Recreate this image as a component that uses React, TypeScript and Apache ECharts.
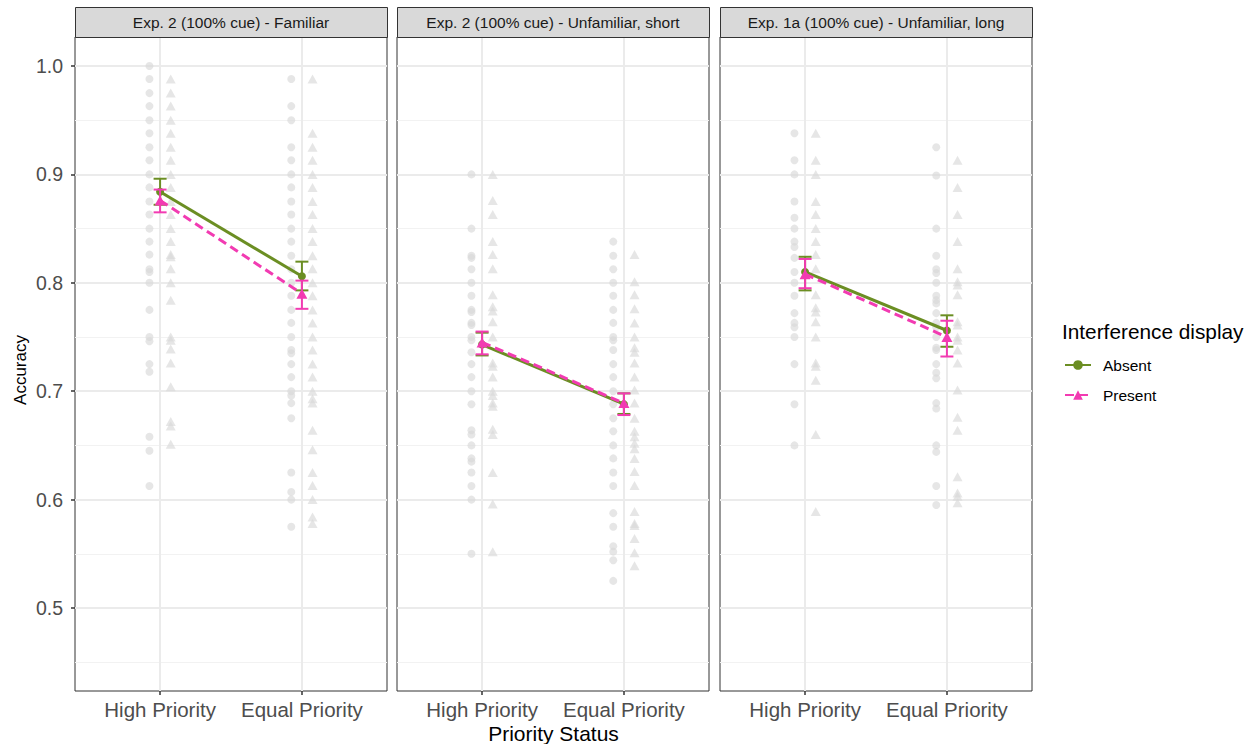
import React, { useEffect, useRef } from 'react';
import * as echarts from 'echarts';

const panelTitles = [
  'Exp. 2 (100% cue) - Familiar',
  'Exp. 2 (100% cue) - Unfamiliar, short',
  'Exp. 1a (100% cue) - Unfamiliar, long',
];
const categories = ['High Priority', 'Equal Priority'];
const yTicks = [0.5, 0.6, 0.7, 0.8, 0.9, 1.0];
const conditions = ['Absent', 'Present'];

// condition means and error-bar limits: [panel][category]
const absentMean = [[0.884, 0.806], [0.743, 0.688], [0.810, 0.756]];
const absentLow = [[0.872, 0.793], [0.733, 0.679], [0.793, 0.741]];
const absentHigh = [[0.896, 0.8195], [0.754, 0.698], [0.824, 0.770]];
const presentMean = [[0.876, 0.790], [0.745, 0.689], [0.808, 0.750]];
const presentLow = [[0.865, 0.776], [0.734, 0.678], [0.795, 0.732]];
const presentHigh = [[0.886, 0.802], [0.755, 0.698], [0.822, 0.765]];

// individual participant accuracies
const famAbsentHigh = [1.0, 0.988, 0.975, 0.963, 0.95, 0.938, 0.925, 0.913, 0.9, 0.888, 0.875, 0.863, 0.85, 0.838, 0.826, 0.8125, 0.81, 0.8, 0.775, 0.75, 0.746, 0.725, 0.718, 0.658, 0.645, 0.6125];
const famPresentHigh = [0.988, 0.975, 0.963, 0.95, 0.938, 0.925, 0.913, 0.9, 0.888, 0.875, 0.863, 0.85, 0.838, 0.826, 0.824, 0.813, 0.8, 0.784, 0.75, 0.747, 0.739, 0.726, 0.704, 0.672, 0.668, 0.651];
const famAbsentEqual = [0.988, 0.963, 0.95, 0.925, 0.913, 0.9, 0.888, 0.875, 0.863, 0.85, 0.838, 0.825, 0.8125, 0.8, 0.788, 0.775, 0.763, 0.75, 0.738, 0.735, 0.725, 0.713, 0.7, 0.696, 0.689, 0.675, 0.625, 0.607, 0.6, 0.575];
const famPresentEqual = [0.988, 0.938, 0.925, 0.913, 0.9, 0.888, 0.875, 0.863, 0.85, 0.838, 0.825, 0.813, 0.8, 0.788, 0.775, 0.763, 0.75, 0.738, 0.725, 0.713, 0.7, 0.693, 0.689, 0.664, 0.646, 0.625, 0.613, 0.6, 0.584, 0.578];

const shortAbsentHigh = [0.9, 0.85, 0.825, 0.823, 0.8125, 0.8, 0.788, 0.775, 0.773, 0.763, 0.761, 0.75, 0.747, 0.736, 0.725, 0.713, 0.7, 0.688, 0.664, 0.66, 0.65, 0.638, 0.635, 0.625, 0.6125, 0.6, 0.55];
const shortPresentHigh = [0.9, 0.876, 0.863, 0.838, 0.826, 0.813, 0.789, 0.778, 0.774, 0.764, 0.75, 0.726, 0.723, 0.713, 0.7, 0.696, 0.689, 0.686, 0.665, 0.66, 0.625, 0.596, 0.552];
const shortAbsentEqual = [0.838, 0.825, 0.8125, 0.8, 0.788, 0.775, 0.763, 0.75, 0.747, 0.738, 0.725, 0.713, 0.7, 0.688, 0.675, 0.663, 0.65, 0.638, 0.625, 0.6125, 0.5875, 0.575, 0.557, 0.552, 0.544, 0.525];
const shortPresentEqual = [0.826, 0.801, 0.789, 0.776, 0.763, 0.75, 0.74, 0.736, 0.726, 0.713, 0.701, 0.689, 0.675, 0.663, 0.658, 0.652, 0.647, 0.638, 0.626, 0.613, 0.589, 0.578, 0.576, 0.564, 0.551, 0.539];

const longAbsentHigh = [0.938, 0.913, 0.9, 0.875, 0.86, 0.85, 0.838, 0.833, 0.823, 0.81, 0.8, 0.788, 0.772, 0.763, 0.759, 0.75, 0.725, 0.688, 0.65];
const longPresentHigh = [0.938, 0.913, 0.9, 0.875, 0.863, 0.85, 0.838, 0.826, 0.813, 0.789, 0.777, 0.773, 0.764, 0.75, 0.726, 0.723, 0.71, 0.66, 0.589];
const longAbsentEqual = [0.925, 0.899, 0.85, 0.825, 0.8125, 0.809, 0.8, 0.788, 0.784, 0.781, 0.772, 0.763, 0.759, 0.75, 0.74, 0.738, 0.725, 0.717, 0.712, 0.689, 0.684, 0.65, 0.644, 0.6125, 0.595];
const longPresentEqual = [0.913, 0.888, 0.863, 0.838, 0.813, 0.801, 0.798, 0.789, 0.764, 0.761, 0.75, 0.747, 0.738, 0.726, 0.701, 0.676, 0.664, 0.621, 0.606, 0.603, 0.597];

const absentPoints = [
  [famAbsentHigh, famAbsentEqual],
  [shortAbsentHigh, shortAbsentEqual],
  [longAbsentHigh, longAbsentEqual],
];
const presentPoints = [
  [famPresentHigh, famPresentEqual],
  [shortPresentHigh, shortPresentEqual],
  [longPresentHigh, longPresentEqual],
];

const FONT = 'Liberation Sans, Arial, Helvetica, sans-serif';
const GREEN = '#6b8e23';
const PINK = '#f23bb2';
const GRID_LEFTS = [75, 397, 720];
const GRID_W = 312;
const GRID_TOP = 37;
const GRID_H = 654;
const DODGE = 0.075;

export default function App() {
  const ref = useRef<HTMLDivElement>(null);
  useEffect(() => {
    if (!ref.current) return;
    const chart = echarts.init(ref.current, null, { renderer: 'svg' });

    const grids: any[] = [];
    const xAxes: any[] = [];
    const yAxes: any[] = [];
    const series: any[] = [];
    const graphics: any[] = [];
    const catPos = categories.map((_, i) => i + 1);

    const errRender = (color: string) => (params: any, api: any) => {
      const x = api.value(0);
      const lo = api.coord([x, api.value(1)]);
      const hi = api.coord([x, api.value(2)]);
      const w = 6.5;
      const st = { stroke: color, lineWidth: 2 };
      return {
        type: 'group',
        children: [
          { type: 'line', shape: { x1: lo[0], y1: lo[1], x2: hi[0], y2: hi[1] }, style: st },
          { type: 'line', shape: { x1: lo[0] - w, y1: lo[1], x2: lo[0] + w, y2: lo[1] }, style: st },
          { type: 'line', shape: { x1: hi[0] - w, y1: hi[1], x2: hi[0] + w, y2: hi[1] }, style: st },
        ],
      };
    };

    panelTitles.forEach((title, p) => {
      grids.push({
        left: GRID_LEFTS[p], top: GRID_TOP, width: GRID_W, height: GRID_H,
        show: true, borderColor: '#333333', borderWidth: 1, backgroundColor: '#ffffff',
      });
      xAxes.push({
        type: 'value', gridIndex: p, min: 0.4, max: 2.6,
        axisLine: { show: false },
        axisTick: { show: true, length: 4, customValues: catPos, lineStyle: { color: '#333333', width: 1.5 } },
        axisLabel: {
          show: true, customValues: catPos, margin: 8,
          formatter: (v: number) => categories[Math.round(v) - 1] ?? '',
          color: '#4d4d4d', fontSize: 20.5, fontFamily: FONT,
        },
        splitLine: { show: true, lineStyle: { color: '#ebebeb', width: 2 } },
        minorSplitLine: { show: false },
      });
      yAxes.push({
        type: 'value', gridIndex: p, min: 0.42343, max: 1.02675,
        axisLine: { show: false },
        axisTick: { show: p === 0, length: 4, customValues: yTicks, lineStyle: { color: '#333333', width: 1.5 } },
        axisLabel: {
          show: p === 0, customValues: yTicks, margin: 12,
          formatter: (v: number) => v.toFixed(1),
          color: '#4d4d4d', fontSize: 19.5, fontFamily: FONT,
        },
        splitLine: { show: true, lineStyle: { color: '#ebebeb', width: 2 } },
        minorTick: { show: false, splitNumber: 2 },
        minorSplitLine: { show: true, lineStyle: { color: '#f2f2f2', width: 1 } },
      });

      // individual points
      series.push({
        type: 'scatter', name: 'absent-ind-' + p, xAxisIndex: p, yAxisIndex: p,
        symbol: 'circle', symbolSize: 8, silent: true, z: 1,
        itemStyle: { color: '#d9d9d9', opacity: 0.65 },
        data: absentPoints[p].flatMap((vals, c) => vals.map((v) => [catPos[c] - DODGE, v])),
      });
      series.push({
        type: 'scatter', name: 'present-ind-' + p, xAxisIndex: p, yAxisIndex: p,
        symbol: 'triangle', symbolSize: [10, 9], silent: true, z: 1,
        itemStyle: { color: '#d9d9d9', opacity: 0.65 },
        data: presentPoints[p].flatMap((vals, c) => vals.map((v) => [catPos[c] + DODGE, v])),
      });

      // lines
      series.push({
        type: 'line', name: conditions[0], xAxisIndex: p, yAxisIndex: p, z: 3,
        symbol: 'circle', symbolSize: 8, showSymbol: true,
        itemStyle: { color: GREEN }, lineStyle: { color: GREEN, width: 3 },
        data: catPos.map((x, c) => [x, absentMean[p][c]]),
      });
      series.push({
        type: 'custom', name: 'absent-err-' + p, xAxisIndex: p, yAxisIndex: p, z: 4,
        renderItem: errRender(GREEN), encode: { x: 0, y: [1, 2] },
        data: catPos.map((x, c) => [x, absentLow[p][c], absentHigh[p][c]]),
      });
      series.push({
        type: 'line', name: conditions[1], xAxisIndex: p, yAxisIndex: p, z: 5,
        symbol: 'triangle', symbolSize: [11, 10], showSymbol: true,
        itemStyle: { color: PINK }, lineStyle: { color: PINK, width: 3, type: [9, 5] },
        data: catPos.map((x, c) => [x, presentMean[p][c]]),
      });
      series.push({
        type: 'custom', name: 'present-err-' + p, xAxisIndex: p, yAxisIndex: p, z: 6,
        renderItem: errRender(PINK), encode: { x: 0, y: [1, 2] },
        data: catPos.map((x, c) => [x, presentLow[p][c], presentHigh[p][c]]),
      });

      // strip
      graphics.push({
        type: 'rect', left: GRID_LEFTS[p], top: 7,
        shape: { width: GRID_W, height: GRID_TOP - 7 },
        style: { fill: '#d9d9d9', stroke: '#333333', lineWidth: 1 },
        z: 10,
      });
      graphics.push({
        type: 'text', x: GRID_LEFTS[p] + GRID_W / 2, y: 22,
        style: {
          text: title, fill: '#1a1a1a', fontSize: 15.5, fontFamily: FONT,
          textAlign: 'center', textVerticalAlign: 'middle',
        },
        z: 11,
      });
    });

    graphics.push({
      type: 'text', x: (GRID_LEFTS[0] + GRID_LEFTS[2] + GRID_W) / 2, y: 733,
      style: { text: 'Priority Status', fill: '#000000', fontSize: 21, fontFamily: FONT, textAlign: 'center', textVerticalAlign: 'middle' },
    });
    graphics.push({
      type: 'text', x: 20, y: 370, rotation: Math.PI / 2,
      style: { text: 'Accuracy', fill: '#000000', fontSize: 17, fontFamily: FONT, textAlign: 'center', textVerticalAlign: 'middle' },
    });
    graphics.push({
      type: 'text', x: 1062, y: 331,
      style: { text: 'Interference display', fill: '#000000', fontSize: 20.8, fontFamily: FONT, textAlign: 'left', textVerticalAlign: 'middle' },
    });

    chart.setOption({
      animation: false,
      backgroundColor: '#ffffff',
      grid: grids,
      xAxis: xAxes,
      yAxis: yAxes,
      series,
      legend: {
        data: conditions,
        orient: 'vertical',
        left: 1064, top: 357, padding: 0,
        itemWidth: 26, itemHeight: 12, itemGap: 14,
        selectedMode: false,
        textStyle: { fontSize: 15.5, fontFamily: FONT, color: '#000000', lineHeight: 16, padding: [0, 0, 0, 7] },
      },
      graphic: graphics,
    });
    return () => chart.dispose();
  }, []);

  return <div ref={ref} style={{ position: 'fixed', left: 0, top: 0, width: 1258, height: 744 }} />;
}
